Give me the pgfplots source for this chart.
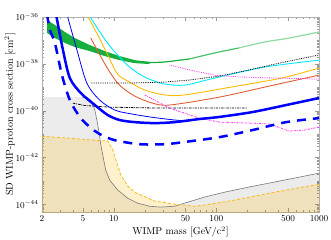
\documentclass[border=0pt]{standalone}
\usepackage{pgfplots}
\pgfplotsset{compat=1.18}
\definecolor{myblue}{RGB}{0,0,255}
\definecolor{mycyan}{RGB}{0,235,255}
\definecolor{myyellow}{RGB}{255,185,0}
\definecolor{myred}{RGB}{225,95,50}
\definecolor{mygreenA}{RGB}{20,175,60}
\definecolor{mygreenB}{RGB}{70,195,100}
\definecolor{mygreenC}{RGB}{140,220,160}
\definecolor{mymag}{RGB}{255,50,255}
\definecolor{mygray}{RGB}{120,120,120}
\definecolor{dashorange}{RGB}{250,185,20}
\begin{document}
\begin{tikzpicture}
\begin{axis}[
  scale only axis, width=277pt, height=195pt,
  xmode=log, ymode=log,
  xmin=2, xmax=1000, ymin=4.7e-45, ymax=1e-36,
  xtick={2,5,10,50,100,500,1000},
  xticklabels={2,5,10,50,100,500,1000},
  minor xtick={3,4,6,7,8,9,20,30,40,60,70,80,90,200,300,400,600,700,800,900},
  ytick={1e-44,1e-42,1e-40,1e-38,1e-36},
  minor ytick={5e-45,6e-45,7e-45,8e-45,9e-45,
    2e-44,3e-44,4e-44,5e-44,6e-44,7e-44,8e-44,9e-44,1e-43,
    2e-43,3e-43,4e-43,5e-43,6e-43,7e-43,8e-43,9e-43,
    2e-42,3e-42,4e-42,5e-42,6e-42,7e-42,8e-42,9e-42,1e-41,
    2e-41,3e-41,4e-41,5e-41,6e-41,7e-41,8e-41,9e-41,
    2e-40,3e-40,4e-40,5e-40,6e-40,7e-40,8e-40,9e-40,1e-39,
    2e-39,3e-39,4e-39,5e-39,6e-39,7e-39,8e-39,9e-39,
    2e-38,3e-38,4e-38,5e-38,6e-38,7e-38,8e-38,9e-38,1e-37,
    2e-37,3e-37,4e-37,5e-37,6e-37,7e-37,8e-37,9e-37},
  tick align=inside,
  major tick length=4pt, minor tick length=2pt,
  tick style={gray!80},
  axis line style={gray!60},
  tick label style={font=\fontsize{9}{10}\selectfont},
  label style={font=\fontsize{10}{12}\selectfont},
  xlabel={WIMP mass [GeV/c$^2$]},
  ylabel={SD WIMP-proton cross section [cm$^2$]},
  xlabel style={at={(axis description cs:0.5,-0.1026)}, anchor=center},
  ylabel style={at={(axis description cs:-0.1155,0.5)}, anchor=center},
]
% gray region (fill)
\addplot[fill=black, fill opacity=0.08, draw=none] coordinates {
(2,1e-46) (2,3.8e-40) (4.9,3.8e-40) (5.59,3.47e-40) (5.98,2.8e-40) (6.55,1.07e-40)
(7.0,2.4e-41) (7.32,6.8e-42) (7.49,3.4e-42) (7.82,1.26e-42) (8.36,2.9e-43)
(9.14,1.07e-43) (10.93,4.1e-44) (13.7,1.82e-44) (17.1,1.12e-44) (22.4,8.3e-45)
(28.6,7.6e-45) (39.1,8.3e-45) (48.9,1.12e-44) (61.2,1.51e-44) (76.5,2.04e-44)
(120,3.3e-44) (209,5.5e-44) (366,8.9e-44) (640,1.45e-43) (1000,2.14e-43) (1000,1e-46)} -- cycle;
% yellow region (fill)
\addplot[fill=myyellow, fill opacity=0.2, draw=none] coordinates {
(2,1e-46) (2,8.1e-42) (8.75,5.0e-42) (9.78,2.1e-42) (11.7,1.78e-43) (13.7,6.0e-44)
(16.0,3.3e-44) (25.0,1.38e-44) (39.1,1.02e-44) (61.2,8.3e-45) (76.5,9.3e-45)
(150,1.51e-44) (366,3.3e-44) (1000,7.2e-44) (1000,1e-46)} -- cycle;
% gray line
\addplot[mygray, line width=0.6pt] coordinates {
(4.9,3.8e-40) (5.59,3.47e-40) (5.98,2.8e-40) (6.55,1.07e-40)
(7.0,2.4e-41) (7.32,6.8e-42) (7.49,3.4e-42) (7.82,1.26e-42) (8.36,2.9e-43)
(9.14,1.07e-43) (10.93,4.1e-44) (13.7,1.82e-44) (17.1,1.12e-44) (22.4,8.3e-45)
(28.6,7.6e-45) (39.1,8.3e-45) (48.9,1.12e-44) (61.2,1.51e-44) (76.5,2.04e-44)
(120,3.3e-44) (209,5.5e-44) (366,8.9e-44) (640,1.45e-43) (1000,2.14e-43)};
% orange dashed line
\addplot[dashorange, line width=0.8pt, dash pattern=on 3pt off 2pt] coordinates {
(2,8.1e-42) (8.75,5.0e-42) (9.78,2.1e-42) (11.7,1.78e-43) (13.7,6.0e-44)
(16.0,3.3e-44) (25.0,1.38e-44) (39.1,1.02e-44) (61.2,8.3e-45) (76.5,9.3e-45)
(150,1.51e-44) (366,3.3e-44) (1000,7.2e-44)};
% green band
\addplot[fill=mygreenA, draw=none] coordinates {
(2.24,7.4e-37) (2.67,4.6e-37) (3.34,2.3e-37) (4.18,1.26e-37) (5.85,6.3e-38)
(8.18,3.5e-38) (11.4,2.14e-38) (16.0,1.44e-38) (22.4,1.2e-38)
(22.4,9.8e-39) (16.0,1.07e-38) (11.4,1.44e-38) (8.18,2.14e-38) (5.85,3.5e-38)
(4.18,5.2e-38) (3.34,7.8e-38) (2.67,1.26e-37) (2.24,2.1e-37)} -- cycle;
\addplot[mygreenA, line width=1.2pt, smooth] coordinates {
(16.0,1.26e-38) (22.4,1.15e-38) (31.3,1.2e-38) (54.7,1.62e-38)};
\addplot[mygreenB, line width=1.2pt, smooth] coordinates {
(54.7,1.62e-38) (95.7,2.9e-38) (167,4.8e-38)};
\addplot[mygreenC, line width=1.2pt, smooth] coordinates {
(167,4.8e-38) (292,8.5e-38) (512,1.26e-37) (1000,2.3e-37)};
% cyan
\addplot[mycyan, line width=0.9pt, smooth] coordinates {
(5.72,1.23e-36) (7.32,2.3e-37) (9.14,5.8e-38) (11.4,1.95e-38) (14.3,7.2e-39)
(19.2,3.0e-39) (25.0,1.82e-39) (31.3,1.38e-39) (48.9,1.23e-39) (95.7,2.45e-39)
(292,7.2e-39) (1000,1.44e-38)};
% yellow
\addplot[myyellow, line width=0.9pt, smooth] coordinates {
(5.47,1.23e-36) (7.0,1.7e-37) (8.75,2.4e-38) (10.93,3.6e-39) (14.3,1.66e-39)
(20.0,7.6e-40) (31.3,4.7e-40) (48.9,4.7e-40) (140,1.02e-39) (428,2.45e-39)
(1000,6.6e-39)};
% red-orange
\addplot[myred, line width=0.9pt, smooth] coordinates {
(5.98,1.26e-37) (7.32,2.4e-38) (9.14,4.5e-39) (11.4,1.23e-39) (16.0,4.2e-40)
(23.9,2.1e-40) (35.0,1.74e-40) (107,3.8e-40) (327,1.12e-39) (1000,3.3e-39)};
% black dotted
\addplot[black, line width=0.8pt, densely dotted] coordinates {
(5.98,1.51e-39) (14.3,1.51e-39) (31.3,1.66e-39) (54.7,2.04e-39) (107,3.0e-39)
(209,5.5e-39) (409,1.07e-38) (1000,2.4e-38)};
% black dash-dot
\addplot[black, line width=0.8pt, dash pattern=on 2.5pt off 1pt on 0.8pt off 1pt] coordinates {
(4.0,2.1e-40) (5.23,1.66e-40) (9.14,1.41e-40) (28.0,1.29e-40) (200,1.29e-40)};
% magenta dotted (upper)
\addplot[mymag, line width=0.8pt, densely dotted] coordinates {
(35.0,8.9e-39) (54.7,5.5e-39) (95.7,3.3e-39) (167,2.75e-39) (409,2.45e-39) (1000,2.24e-39)};
% magenta dash-dot (lower)
\addplot[mymag, line width=0.8pt, dash pattern=on 2pt off 1pt on 0.6pt off 1pt] coordinates {
(20.0,4.7e-40) (35.0,1.29e-40) (68.4,4.8e-41) (107,3.24e-41) (209,2.95e-41)
(327,2.7e-41) (512,1.35e-41) (716,1.48e-41) (1000,2.0e-41)};
% thin blue
\addplot[myblue, line width=0.8pt, smooth] coordinates {
(3.50,1.3e-36) (4.38,3.9e-38) (5.47,1.51e-39) (7.32,2.8e-40) (10.2,1.07e-40)
(13.4,7.9e-41) (22.4,5.4e-41) (39.1,4.0e-41) (54.7,3.6e-41)};
% thick blue
\addplot[myblue, line width=2.5pt, smooth] coordinates {
(2.75,1.2e-36) (3.20,3.9e-38) (3.74,2.45e-39) (4.79,5.6e-40) (6.55,1.74e-40)
(8.75,6.5e-41) (11.4,4.0e-41) (16.0,3.24e-41) (25.0,2.95e-41) (39.1,3.24e-41)
(68.4,4.4e-41) (107,5.4e-41) (224,8.7e-41) (479,1.74e-40) (1000,3.47e-40)};
% thick blue dashed
\addplot[myblue, line width=2.5pt, smooth, dash pattern=on 9pt off 7pt] coordinates {
(2.24,1.3e-36) (2.39,2.78e-37) (2.67,7.8e-38) (3.13,3.3e-39) (3.74,2.8e-40)
(4.68,5.4e-41) (5.85,2.0e-41) (7.32,1.0e-41) (10.2,5.5e-42) (17.9,3.7e-42)
(31.3,3.7e-42) (48.9,4.6e-42) (107,7.4e-42) (224,1.48e-41) (479,3.24e-41)
(1000,4.8e-41)};
\end{axis}
\pgfresetboundingbox
\path[use as bounding box] ([xshift=-42pt,yshift=-28pt]current axis.south west) rectangle ([xshift=12pt,yshift=17pt]current axis.north east);
\end{tikzpicture}
\end{document}
